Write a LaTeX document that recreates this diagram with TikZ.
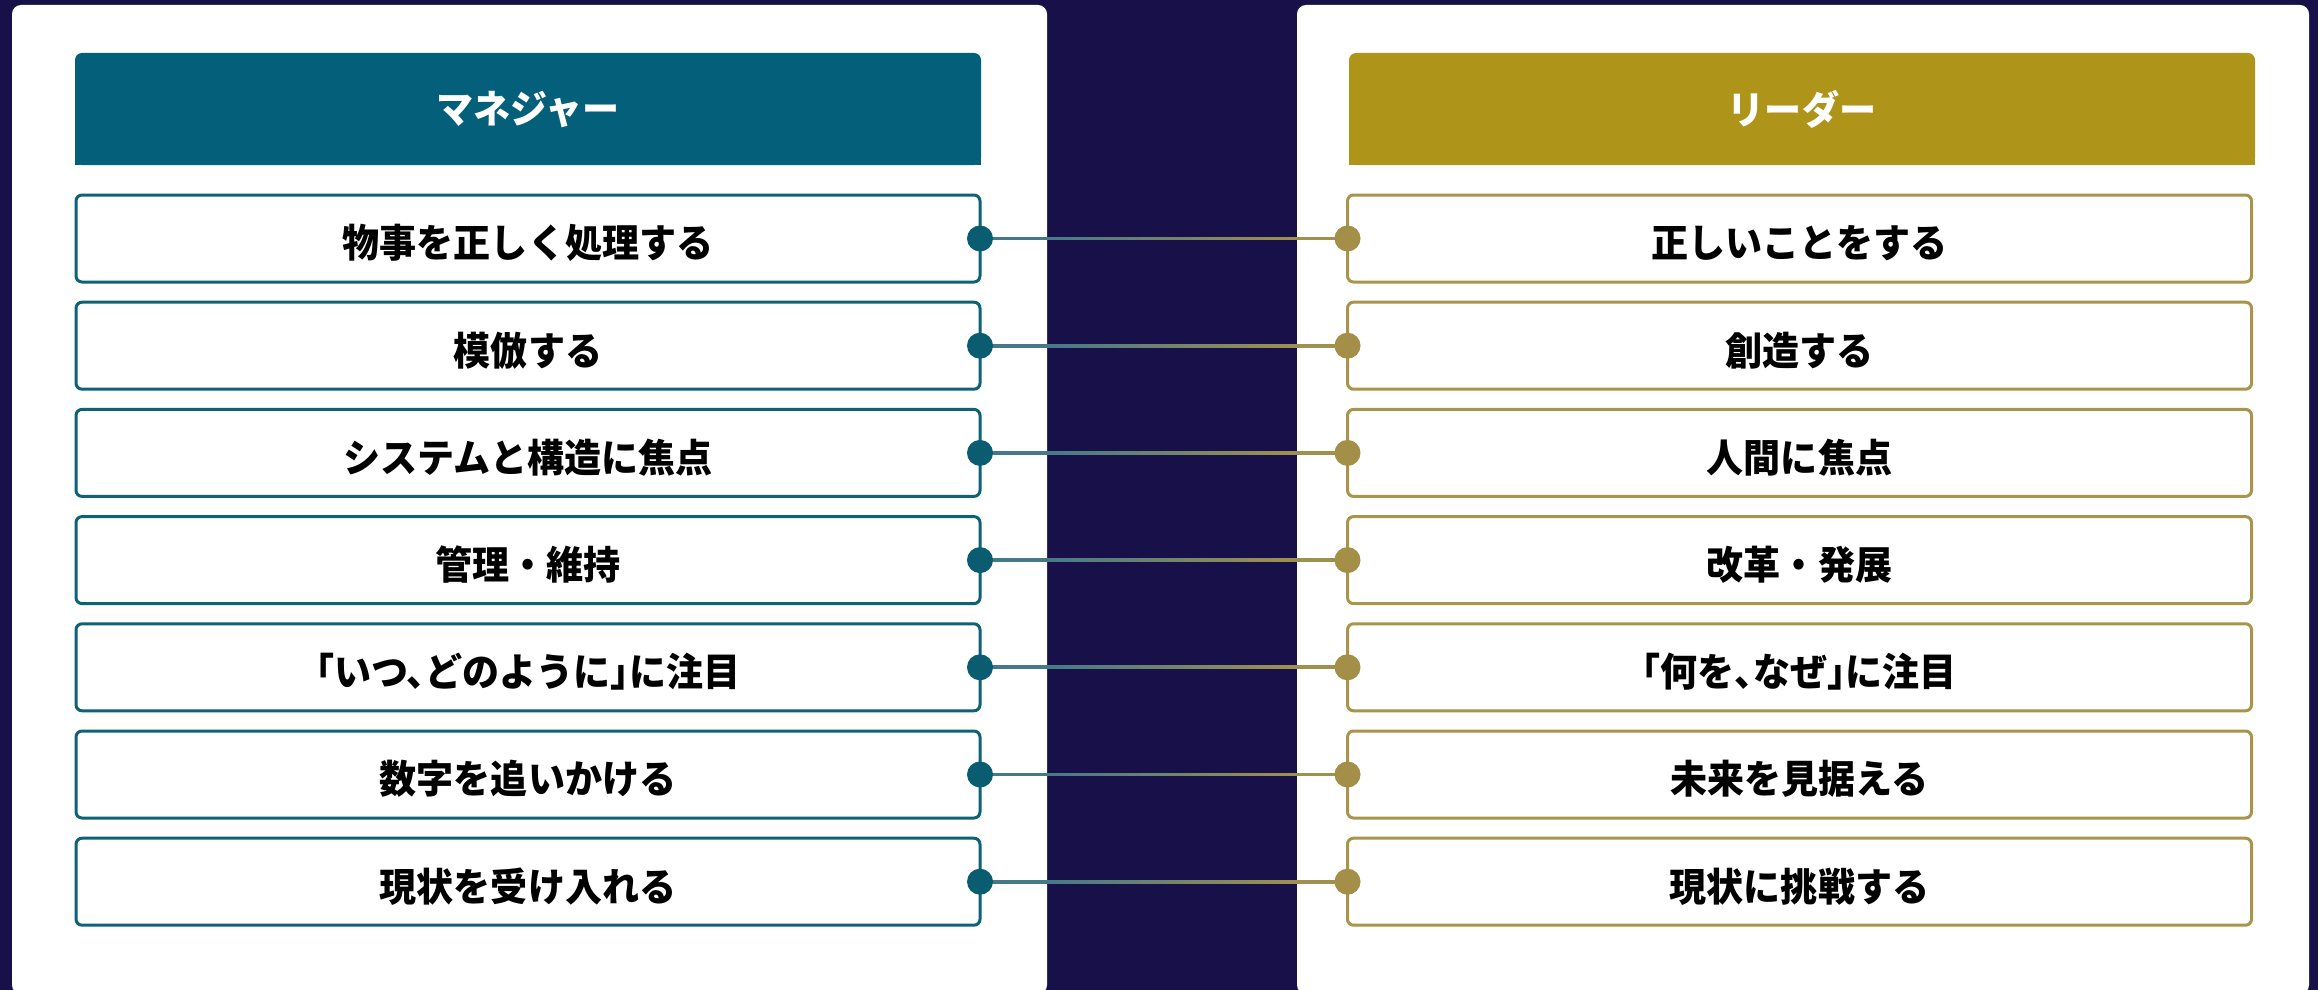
\documentclass[tikz,border=0pt]{standalone}
\usepackage{fontspec}
\newfontfamily\jp{Noto Sans CJK JP}[FakeStretch=0.95]
\newfontfamily\jph{Noto Sans CJK JP}[FakeStretch=0.95, RawFeature=+halt]
\usetikzlibrary{calc}
\definecolor{navy}{HTML}{181149}
\definecolor{tealH}{HTML}{04607A}
\definecolor{goldH}{HTML}{AF941A}
\definecolor{tealB}{HTML}{0E6276}
\definecolor{goldB}{HTML}{A8944A}
\definecolor{tealD}{HTML}{0A5D70}
\definecolor{goldD}{HTML}{A38F47}
\definecolor{lineT}{HTML}{45798A}
\definecolor{lineG}{HTML}{A0904E}
\pgfdeclarehorizontalshading{connshade}{100bp}{color(0bp)=(lineT); color(34bp)=(lineT); color(68bp)=(lineG); color(100bp)=(lineG)}
\begin{document}
\begin{tikzpicture}[x=1pt,y=-1pt,
  panel/.style={fill=white, rounded corners=9pt},
  hdrtext/.style={inner sep=0pt, text=white, font=\jp\bfseries\fontsize{39}{42}\selectfont},
  rowbox/.style={draw, line width=3pt, fill=white, rounded corners=6pt, minimum width=904pt, minimum height=87pt, inner sep=0pt, text height=40pt, text depth=1.4pt, text=black, font=\jp\bfseries\fontsize{39}{42}\selectfont},
  lbox/.style={rowbox, draw=tealB},
  rbox/.style={rowbox, draw=goldB},
  dotnode/.style={circle, minimum size=26pt, inner sep=0pt, outer sep=0pt},
  ldot/.style={dotnode, fill=tealD},
  rdot/.style={dotnode, fill=goldD},
  conn/.style={shading=connshade}
]
\fill[navy] (0,0) rectangle (2318,990);
\useasboundingbox (0,0) rectangle (2318,990);
% panels
\fill[panel] (12,5) rectangle (1047,994);
\fill[panel] (1297,5) rectangle (2309,994);
% headers
\fill[tealH, rounded corners=7pt] (75,53) rectangle (981,165);
\fill[tealH] (75,110) rectangle (981,165);
\fill[goldH, rounded corners=7pt] (1349,53) rectangle (2255,165);
\fill[goldH] (1349,110) rectangle (2255,165);
\node[hdrtext] (lh) at (528,109) {マネジャー};
\node[hdrtext] (rh) at (1802,109) {リーダー};
% rows
\foreach \i/\lt/\rt in {1/物事を正しく処理する/正しいことをする,
  2/模倣する/創造する,
  3/システムと構造に焦点/人間に焦点,
  4/管理・維持/改革・発展,
  5/{\jph 「いつ、どのように」に注目}/{\jph 「何を、なぜ」に注目},
  6/数字を追いかける/未来を見据える,
  7/現状を受け入れる/現状に挑戦する}{
  \pgfmathsetmacro{\yy}{238.5+(\i-1)*107.2}
  \node[lbox] (l\i) at (528,\yy) {\lt};
  \node[rbox] (r\i) at (1799.5,\yy) {\rt};
  \coordinate (lc\i) at ($(l\i.east)+(-1.5,0)$);
  \coordinate (rc\i) at ($(r\i.west)+(1.5,0)$);
  \path[conn] ($(lc\i)+(0,-1.4)$) rectangle ($(rc\i)+(0,1.4)$);
  \node[ldot] (ld\i) at (lc\i) {};
  \node[rdot] (rd\i) at (rc\i) {};
}
\end{tikzpicture}
\end{document}
